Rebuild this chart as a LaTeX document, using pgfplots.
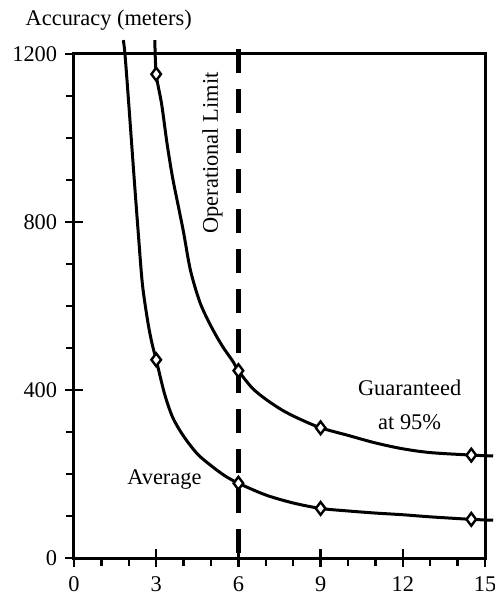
\documentclass[border=0pt]{standalone}
\usepackage{fontspec}
\setmainfont{Liberation Serif}
\usepackage{pgfplots}
\pgfplotsset{compat=1.18}

\begin{document}
\fontsize{11.2}{14}\selectfont
\begin{tikzpicture}
\useasboundingbox (-37pt,-23.5pt) rectangle (210pt,279pt);
\begin{axis}[%
width=205.5pt, height=252pt,
scale only axis,
xmin=0, xmax=15,
ymin=0, ymax=1200,
xtick={0,3,6,9,12,15},
ytick={0,400,800,1200},
minor x tick num=2,
minor y tick num=3,
tick pos=left,
tick align=center,
major tick length=9pt,
minor tick length=4pt,
minor x tick style={yshift=-2pt},
minor y tick style={xshift=-2pt},
every tick/.style={black, line width=1.2pt},
axis line style={line width=1.5pt},
/pgf/number format/assume math mode=true,
/pgf/number format/1000 sep={},
tick label style={font=\fontsize{11.2}{14}\selectfont},
xticklabel style={yshift=-1pt},
clip=false]

% Average
\addplot [black, line width=1.5pt, smooth, tension=0.5] coordinates{
(1.8,1233)(1.86,1200)(2.0,1080)(2.2,900)(2.35,770)(2.5,650)(2.7,560)
(2.85,510)(3,472)(3.3,392)(3.6,335)(4,290)(4.5,248)(5,220)(5.5,196)
(6,178)(7,150)(8,131)(9,118)(10,112)(11,107)(12,103)(13,98)(14.5,92)(15.3,90)
};
\addplot [only marks, mark=diamond*, mark size=3.2pt, black, fill=white, line width=1.2pt]
coordinates{(3,472)(6,178)(9,118)(14.5,92)};

% Guaranteed at 95%
\addplot [black, line width=1.5pt, smooth, tension=0.5] coordinates{
(2.95,1233)(3,1152)(3.2,1080)(3.4,985)(3.6,905)(3.8,840)(4.0,775)
(4.25,685)(4.6,608)(5,552)(5.4,506)(5.8,468)(6,446)(6.5,405)(7,378)
(7.6,352)(8.2,332)(9,310)(10,292)(11,274)(12,260)(13,251)(14.5,245)(15.3,243)
};

% operational limit
\addplot [black, line width=2.6pt, dash pattern=on 12pt off 8pt] coordinates{(6,1212)(6,0)};

\addplot [only marks, mark=diamond*, mark size=3.2pt, black, fill=white, line width=1.2pt]
coordinates{(3,1152)(6,446)(9,310)(14.5,245)};

\node[rotate=90] at (axis cs:5.05,964) {Operational Limit};
\node[align=center, font=\fontsize{11.2}{17}\selectfont] at (axis cs:12.25,365) {Guaranteed\\at 95\%};
\node at (axis cs:3.3,188) {Average};
\node[anchor=west] at (axis cs:-2.05,1281) {Accuracy (meters)};

\end{axis}
\end{tikzpicture}
\end{document}
